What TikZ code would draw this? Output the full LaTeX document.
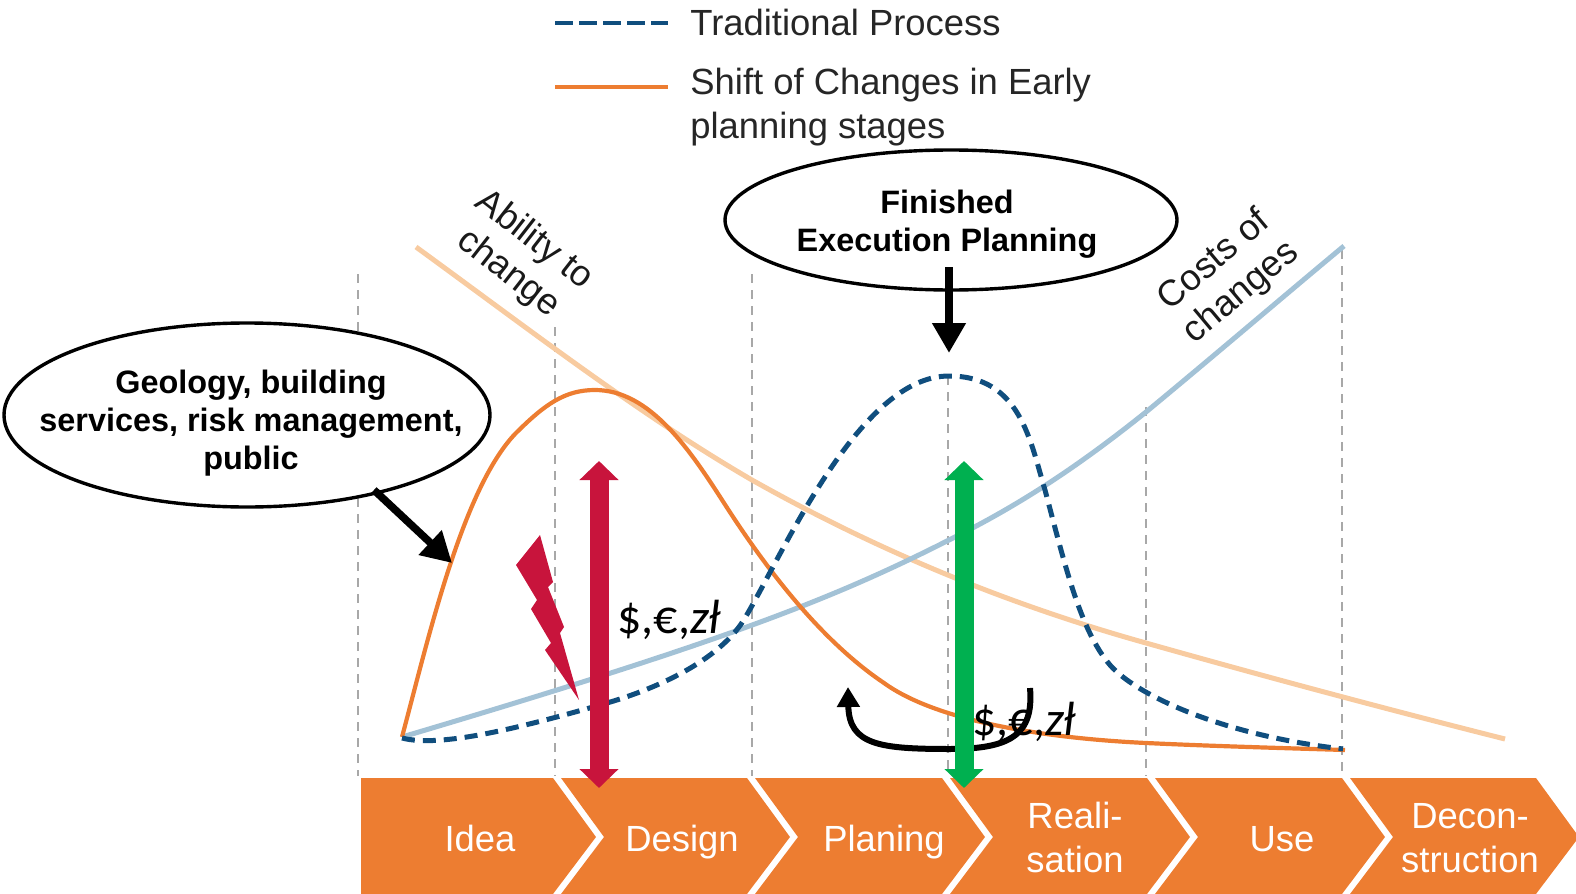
\documentclass[tikz,border=0pt]{standalone}
\usepackage{fontspec}
\setmainfont{Liberation Sans}
\newfontfamily\calfont{Carlito}
\usetikzlibrary{arrows.meta,shapes.geometric}
\definecolor{chevorange}{HTML}{ED7D31}
\definecolor{lightorange}{HTML}{F8CBA0}
\definecolor{lightblue}{HTML}{A3C2D6}
\definecolor{darkblue}{HTML}{104E7E}
\definecolor{redarrow}{HTML}{C8143C}
\definecolor{greenarrow}{HTML}{00B050}
\definecolor{gridgray}{HTML}{A8A8A8}
\tikzset{
  grid line/.style={draw=gridgray,line width=0.9pt,dash pattern=on 4.5pt off 3.5pt},
  soft curve/.style={line width=2.5pt},
  main orange/.style={draw=chevorange,line width=2.1pt,line join=round},
  main blue/.style={draw=darkblue,line width=2.5pt,dash pattern=on 6.5pt off 4pt},
  chev/.style={fill=chevorange},
  chev label/.style={text=white,font=\fontsize{18.2}{22}\selectfont,align=center,inner sep=0pt},
  legend text/.style={font=\fontsize{18.2}{22}\selectfont,align=left,anchor=north west,inner sep=0pt,text=black!85},
  bubble text/.style={align=center,inner sep=0pt,font=\bfseries\fontsize{16.2}{19}\selectfont},
  bubble line/.style={draw=black,line width=1.7pt,fill=white},
  black arrow/.style={draw=black,line width=3.8pt,-{Triangle[length=15pt,width=16pt]}},
  span arrow/.style={line width=9.5pt,{Triangle[length=9.5pt,width=19pt]}-{Triangle[length=9.5pt,width=19pt]}},
  money/.style={font=\calfont\fontsize{24}{27}\selectfont,anchor=base west,inner sep=0pt},
  tilted/.style={font=\fontsize{18.2}{21}\selectfont,align=center,inner sep=0pt,text=black!90},
}
\begin{document}
\begin{tikzpicture}[x=0.5pt,y=-0.5pt]
\useasboundingbox (0,0) rectangle (1576,894);
% grid
\draw[grid line] (358,274) -- (358,776);
\draw[grid line] (555,327) -- (555,776);
\draw[grid line] (752,274) -- (752,776);
\draw[grid line] (948,376) -- (948,776);
\draw[grid line] (1146,407) -- (1146,776);
\draw[grid line] (1342,250) -- (1342,776);
% soft curves
\draw[soft curve,draw=lightorange] (416,247) .. controls (530,330) and (640,415) .. (752,480) .. controls (880,552) and (1010,605) .. (1146,643) .. controls (1270,678) and (1390,710) .. (1505,739);
\draw[soft curve,draw=lightblue] (402,737) .. controls (520,702) and (640,665) .. (730,633) .. controls (820,601) and (880,575) .. (949,540) .. controls (1020,505) and (1080,465) .. (1146,412) .. controls (1215,355) and (1285,295) .. (1344,246);
% main curves
\draw[main orange] (402,737) .. controls (428,640) and (462,490) .. (515,434) .. controls (545,404) and (565,390) .. (595,390) .. controls (650,390) and (690,450) .. (724,503) .. controls (765,567) and (820,640) .. (884,683) .. controls (935,720) and (1040,738) .. (1146,743) .. controls (1210,746) and (1280,748) .. (1345,750);
\draw[main blue] (402,738) .. controls (440,748) and (520,728) .. (607,703) .. controls (665,686) and (722,657) .. (745,618) .. controls (785,550) and (860,376) .. (949,376) .. controls (1020,376) and (1030,440) .. (1045,490) .. controls (1065,565) and (1080,630) .. (1110,665) .. controls (1135,694) and (1220,735) .. (1343,749);
% chevrons
\fill[chev] (361,778) -- (553,778) -- (596,837) -- (553,894) -- (361,894) -- cycle;
\foreach \L/\R in {561/747,755/942,950/1147,1155/1342,1350/1536}
  \fill[chev] (\L,778) -- (\R,778) -- ({\R+43},837) -- (\R,894) -- (\L,894) -- ({\L+43},837) -- cycle;
\node[chev label,anchor=base] (idea) at (480,851) {Idea};
\node[chev label,anchor=base] (design) at (682,851) {Design};
\node[chev label,anchor=base] (planing) at (884,851) {Planing};
\node[chev label] (reali) at (1075,837) {Reali-\\sation};
\node[chev label,anchor=base] (use) at (1282,851) {Use};
\node[chev label] (decon) at (1470,838) {Decon-\\struction};
% legend
\coordinate (legA1) at (555,23); \coordinate (legA2) at (668,23);
\coordinate (legB1) at (555,87); \coordinate (legB2) at (668,87);
\draw[draw=darkblue,line width=2.4pt,dash pattern=on 9pt off 3pt] (legA1) -- (legA2);
\draw[draw=chevorange,line width=2.4pt] (legB1) -- (legB2);
\node[legend text] (legt1) at (690,9) {Traditional Process};
\node[legend text] (legt2) at (690,68) {Shift of Changes in Early\\planning stages};
% tilted labels
\node[tilted,rotate=-38] (ability) at (521,257) {Ability to\\change};
\node[tilted,rotate=40] (costs) at (1228,277) {Costs of\\changes};
% bubbles
\draw[bubble line] (247,415) ellipse [x radius=121.5pt,y radius=46pt];
\node[bubble text] (geo) at (251,423) {Geology, building\\services, risk management,\\public};
\draw[bubble line] (951,220) ellipse [x radius=113pt,y radius=35pt];
\node[bubble text] (fin) at (947,224) {Finished\\Execution Planning};
% black arrows
\coordinate (finstart) at (949,267); \coordinate (fintip) at (949,353);
\coordinate (geostart) at (374,490); \coordinate (geotip) at (452,563);
\draw[black arrow] (finstart) -- (fintip);
\draw[black arrow] (geostart) -- (geotip);
\coordinate (loopstart) at (1030,688); \coordinate (looptip) at (848,687);
\draw[draw=black,line width=3pt,-{Triangle[length=10pt,width=11pt]}] (loopstart) .. controls (1034,735) and (1010,749) .. (950,749) .. controls (880,749) and (849,745) .. (looptip);
% lightning
\fill[redarrow] (540,535) -- (516,565) -- (537,600) -- (531,609) -- (551,643) -- (545,650) -- (579,700) -- (560,633) -- (564,627) -- (548,587) -- (553,582) -- cycle;
% span arrows
\coordinate (redtop) at (599,461); \coordinate (redbot) at (599,788);
\coordinate (greentop) at (964,461); \coordinate (greenbot) at (964,788);
\draw[span arrow,draw=redarrow,fill=redarrow] (redtop) -- (redbot);
\draw[span arrow,draw=greenarrow,fill=greenarrow] (greentop) -- (greenbot);
% money
\node[money] (moneyA) at (617,633) {\$,€,\textit{zł}};
\node[money] (moneyB) at (972,735) {\$,€,\textit{zł}};
\end{tikzpicture}
\end{document}
